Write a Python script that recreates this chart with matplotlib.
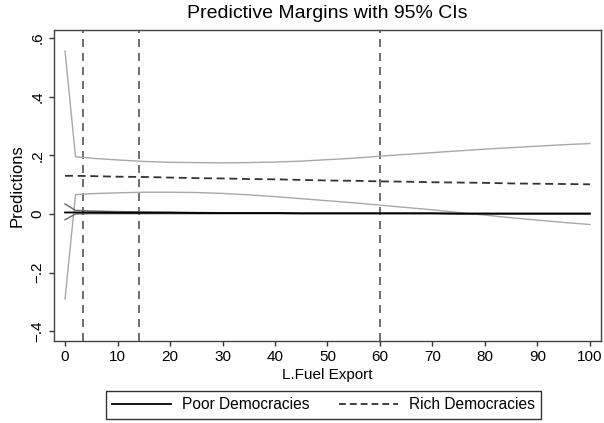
import matplotlib
matplotlib.use("Agg")
import matplotlib.pyplot as plt

plt.rcParams['font.family'] = ['Liberation Sans', 'DejaVu Sans']

fuel_export = [0, 2, 5, 10, 15, 20, 25, 30, 35, 40, 45, 50, 55, 60, 65, 70, 75, 80, 85, 90, 95, 100]

rich_mean = [0.130, 0.130, 0.129, 0.127, 0.126, 0.124, 0.122, 0.121, 0.119, 0.118, 0.116,
             0.114, 0.113, 0.111, 0.110, 0.108, 0.107, 0.106, 0.104, 0.103, 0.102, 0.101]
rich_upper = [0.555, 0.195, 0.190, 0.184, 0.179, 0.176, 0.175, 0.174, 0.175, 0.177, 0.180,
              0.185, 0.190, 0.197, 0.203, 0.209, 0.215, 0.221, 0.226, 0.231, 0.236, 0.240]
rich_lower = [-0.290, 0.066, 0.069, 0.072, 0.074, 0.074, 0.073, 0.070, 0.065, 0.059, 0.052,
              0.045, 0.038, 0.030, 0.022, 0.014, 0.005, -0.004, -0.013, -0.021, -0.029, -0.036]

poor_mean = [0.005, 0.005, 0.005, 0.004, 0.004, 0.004, 0.003, 0.003, 0.003, 0.003, 0.002,
             0.002, 0.002, 0.002, 0.002, 0.002, 0.001, 0.001, 0.001, 0.001, 0.001, 0.001]
poor_upper = [0.034, 0.012, 0.010, 0.008, 0.007, 0.006, 0.005, 0.004, 0.004, 0.004, 0.003,
              0.003, 0.003, 0.003, 0.003, 0.003, 0.002, 0.002, 0.002, 0.002, 0.002, 0.002]
poor_lower = [-0.020, 0.000, 0.001, 0.001, 0.001, 0.001, 0.001, 0.001, 0.001, 0.001, 0.001,
              0.001, 0.001, 0.001, 0.001, 0.001, 0.000, 0.000, 0.000, 0.000, 0.000, 0.000]

vlines = [3.5, 14, 60]

x_ticks = list(range(0, 101, 10))
y_ticks = [-0.4, -0.2, 0, 0.2, 0.4, 0.6]
y_ticklabels = ['\u2212.4', '\u2212.2', '0', '.2', '.4', '.6']

fig = plt.figure(figsize=(6.04, 4.23), dpi=100)
ax = fig.add_axes([0.0894, 0.194, 0.9056, 0.735])

for v in vlines:
    ax.axvline(v, color='#555555', lw=1.2, linestyle=(0, (4.8, 3.6)), zorder=1)

ax.plot(fuel_export, rich_upper, color='#a8a8a8', lw=1.0, zorder=2)
ax.plot(fuel_export, rich_lower, color='#a8a8a8', lw=1.0, zorder=2)
ax.plot(fuel_export, poor_upper, color='#666666', lw=1.0, zorder=2)
ax.plot(fuel_export, poor_lower, color='#666666', lw=1.0, zorder=2)

l1, = ax.plot(fuel_export, poor_mean, color='black', lw=1.3, zorder=3, label='Poor Democracies')
l2, = ax.plot(fuel_export, rich_mean, color='#333333', lw=1.3, linestyle=(0, (4.4, 2.6)), zorder=3,
              label='Rich Democracies')

ax.set_xlim(-2.1, 102.1)
ax.set_ylim(-0.433, 0.627)
ax.set_xticks(x_ticks)
ax.set_yticks(y_ticks)
ax.set_yticklabels(y_ticklabels, rotation=90, va='center')
ax.tick_params(axis='both', labelsize=11, length=3.8, width=1, color='#333333', direction='out')
ax.tick_params(axis='x', pad=3)
ax.tick_params(axis='y', pad=3)
for s in ax.spines.values():
    s.set_color('#444444')
    s.set_linewidth(1.0)

ax.set_xlabel('L.Fuel Export', fontsize=11, labelpad=2.5)
ax.set_ylabel('Predictions', fontsize=12, labelpad=4)
ax.set_title('Predictive Margins with 95% CIs', fontsize=14, pad=8.5)

leg = fig.legend(handles=[l1, l2], loc='center', bbox_to_anchor=(0.536, 0.043), ncol=2,
                 fontsize=11.2, frameon=True, fancybox=False, edgecolor='black',
                 handlelength=3.8, columnspacing=1.9, borderpad=0.4, handletextpad=0.7)
leg.get_frame().set_linewidth(1.0)
leg.legend_handles[1].set_linestyle((0, (3.8, 2.2)))

fig.savefig('out.png', dpi=100)
